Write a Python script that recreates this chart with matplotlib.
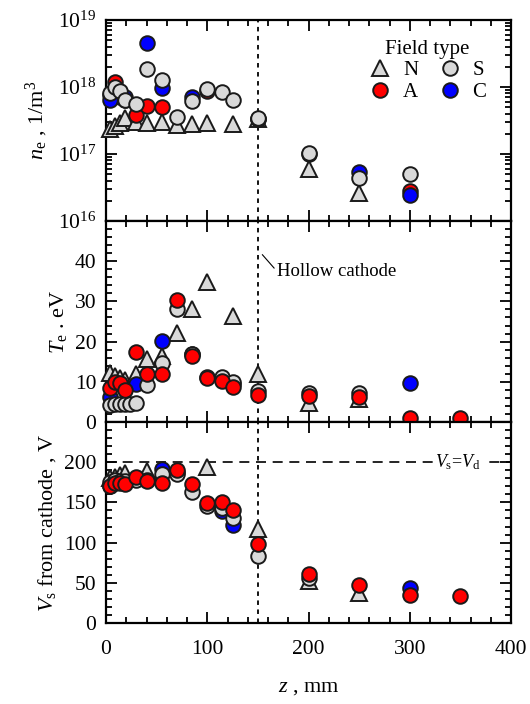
import numpy as np
import matplotlib
matplotlib.use("Agg")
import matplotlib.pyplot as plt
from matplotlib.ticker import MultipleLocator, LogLocator, LogFormatterMathtext, NullFormatter
from matplotlib.lines import Line2D

plt.rcParams['font.family'] = ['Liberation Serif', 'DejaVu Serif']
plt.rcParams['mathtext.fontset'] = 'custom'
plt.rcParams['mathtext.rm'] = 'Liberation Serif'
plt.rcParams['mathtext.it'] = 'Liberation Serif:italic'
plt.rcParams['mathtext.bf'] = 'Liberation Serif:bold'

# ---------------- data ----------------
# electron density n_e (1/m^3)
ne_N_z = [4, 9, 14, 19, 30, 40, 55, 70, 85, 100, 125, 150, 200, 250]
ne_N = [2.4e17, 2.6e17, 2.9e17, 3.5e17, 3.0e17, 2.9e17, 3.0e17, 2.7e17, 2.8e17, 2.9e17, 2.8e17, 3.3e17, 6.0e16, 2.6e16]
ne_S_z = [4, 9, 14, 19, 30, 40, 55, 70, 85, 100, 115, 125, 150, 200, 250, 300]
ne_S = [8.0e17, 9.9e17, 8.6e17, 6.5e17, 5.5e17, 1.84e18, 1.26e18, 3.6e17, 6.1e17, 9.2e17, 8.3e17, 6.3e17, 3.4e17, 1.04e17, 4.4e16, 5.1e16]
ne_A_z = [4, 9, 14, 19, 30, 40, 55, 100, 150, 200, 300]
ne_A = [7.5e17, 1.17e18, 7.0e17, 6.5e17, 3.8e17, 5.2e17, 5.0e17, 8.8e17, 3.3e17, 1.0e17, 2.8e16]
ne_C_z = [4, 19, 40, 55, 85, 150, 250, 300]
ne_C = [6.5e17, 7.0e17, 4.5e18, 9.5e17, 7.2e17, 3.3e17, 5.4e16, 2.45e16]

# electron temperature T_e (eV)
te_N_z = [4, 9, 14, 19, 30, 40, 55, 70, 85, 100, 125, 150, 200, 250]
te_N = [12.2, 11.5, 11.0, 10.5, 11.9, 15.7, 16.3, 22.2, 28.0, 34.9, 26.3, 11.9, 4.8, 5.8]
te_S_z = [4, 9, 14, 19, 24, 30, 40, 55, 70, 85, 100, 115, 125, 150, 200, 250]
te_S = [4.3, 4.5, 4.6, 4.5, 4.6, 4.7, 9.3, 14.8, 28.0, 16.8, 11.3, 11.3, 10.0, 7.8, 7.2, 7.2]
te_A_z = [4, 9, 14, 19, 30, 40, 55, 70, 85, 100, 115, 125, 150, 200, 250, 300, 350]
te_A = [8.4, 10.0, 9.8, 8.0, 17.4, 12.0, 12.0, 30.3, 16.3, 10.9, 10.3, 8.8, 6.75, 6.5, 6.2, 0.9, 0.9]
te_C_z = [4, 30, 55, 85, 125, 300]
te_C = [6.3, 9.5, 20.2, 16.8, 9.5, 9.7]

# plasma potential V_s from cathode (V)
vs_N_z = [4, 9, 14, 19, 40, 100, 150, 200, 250]
vs_N = [180, 182, 184, 186, 189, 194.6, 117.5, 52, 37]
vs_S_z = [4, 9, 14, 19, 30, 40, 55, 70, 85, 100, 115, 125, 150, 200]
vs_S = [175, 178, 177, 176, 178, 178, 185, 185, 163, 146, 143, 131, 83, 56]
vs_A_z = [4, 9, 14, 19, 30, 40, 55, 70, 85, 100, 115, 125, 150, 200, 250, 300, 350]
vs_A = [171, 174, 174, 173, 181, 176, 174, 190, 173, 148.7, 151, 140, 98.75, 60.8, 46.7, 35, 33]
vs_C_z = [4, 55, 70, 115, 125, 300]
vs_C = [170, 191, 188, 139, 122.5, 43]

V_d = 200
z_hollow = 150

# ---------------- styles ----------------
gray = '#d9d9d9'
sty = {
    'N': dict(marker='^', mfc=gray),
    'S': dict(marker='o', mfc=gray),
    'A': dict(marker='o', mfc='#ff0000'),
    'C': dict(marker='o', mfc='#0000ff'),
}
ms = {'^': 11, 'o': 10.5}

def plot_series(ax, z, y, key, zo):
    s = sty[key]
    ax.plot(z, y, linestyle='none', marker=s['marker'], ms=ms[s['marker']],
            mfc=s['mfc'], mec='#1a1a1a', mew=1.4, zorder=zo, clip_on=False)

fig = plt.figure(figsize=(5.30, 7.04), dpi=100)
L, R = 106/530, 511/530
top, bot = 1 - 20/704, 1 - 623/704
h = (top - bot) / 3
ax1 = fig.add_axes([L, bot + 2*h, R - L, h])
ax2 = fig.add_axes([L, bot + h, R - L, h], sharex=ax1)
ax3 = fig.add_axes([L, bot, R - L, h], sharex=ax1)

fs = 15.5
lfs = 16

# top
plot_series(ax1, ne_N_z, ne_N, 'N', 3)
plot_series(ax1, ne_A_z, ne_A, 'A', 4)
plot_series(ax1, ne_C_z, ne_C, 'C', 5)
plot_series(ax1, ne_S_z, ne_S, 'S', 6)
ax1.set_yscale('log')
ax1.set_ylim(1e16, 1e19)
ax1.yaxis.set_major_locator(LogLocator(base=10, numticks=10))
ax1.yaxis.set_major_formatter(LogFormatterMathtext())
ax1.yaxis.set_minor_locator(LogLocator(base=10, subs=np.arange(2, 10), numticks=20))
ax1.yaxis.set_minor_formatter(NullFormatter())
ax1.set_ylabel(r'$n_{\rm e}$ , 1/m$^3$', fontsize=lfs, labelpad=6)

# middle
plot_series(ax2, te_N_z, te_N, 'N', 3)
plot_series(ax2, te_C_z, te_C, 'C', 4)
plot_series(ax2, te_S_z, te_S, 'S', 5)
plot_series(ax2, te_A_z, te_A, 'A', 6)
ax2.set_ylim(0, 50)
ax2.yaxis.set_minor_locator(MultipleLocator(2))
ax2.set_yticks([0, 10, 20, 30, 40])
ax2.set_ylabel(r'$T_{\rm e}$ . eV', fontsize=lfs)

# bottom
plot_series(ax3, vs_N_z, vs_N, 'N', 3)
plot_series(ax3, vs_C_z, vs_C, 'C', 4)
plot_series(ax3, vs_S_z, vs_S, 'S', 5)
plot_series(ax3, vs_A_z, vs_A, 'A', 6)
ax3.set_ylim(0, 250)
ax3.set_yticks([0, 50, 100, 150, 200])
ax3.yaxis.set_minor_locator(MultipleLocator(10))
ax3.set_ylabel(r'$V_{\rm s}$ from cathode , V', fontsize=lfs)
ax3.set_xlabel(r'$z$ , mm', fontsize=lfs, labelpad=14)
ax3.axhline(V_d, color='black', lw=1.2, ls=(0, (6, 4)), zorder=1)
ax3.text(348, V_d, r'$V_{\rm s}$=$V_{\rm d}$', fontsize=13, ha='center', va='center',
         bbox=dict(facecolor='white', edgecolor='none', pad=2), zorder=2)

ax1.set_xlim(0, 400)
ax1.xaxis.set_major_locator(MultipleLocator(100))
ax1.xaxis.set_minor_locator(MultipleLocator(20))

for ax in (ax1, ax2, ax3):
    ax.axvline(z_hollow, color='black', lw=1.3, ls=(0, (2.5, 2.5)), zorder=1)
    ax.tick_params(which='both', direction='in', top=True, right=True, labelsize=fs, width=1.3)
    ax.tick_params(which='major', length=8)
    ax.tick_params(which='minor', length=4)
    ax.tick_params(axis='x', pad=12)
    ax.tick_params(axis='y', pad=7)
    for sp in ax.spines.values():
        sp.set_linewidth(1.6)
for ax in (ax1, ax2):
    ax.tick_params(labelbottom=False)

fig.align_ylabels([ax1, ax2, ax3])

# hollow cathode label
ax2.plot([154.5, 166], [41.6, 38.3], color='black', lw=0.8, zorder=2)
ax2.text(168.5, 37.5, 'Hollow cathode', fontsize=13.5, va='center', ha='left')

# legend
handles = []
labels = []
for k in ['N', 'A', 'S', 'C']:
    s = sty[k]
    handles.append(Line2D([], [], linestyle='none', marker=s['marker'], ms=ms[s['marker']],
                          mfc=s['mfc'], mec='#1a1a1a', mew=1.4))
    labels.append(k)
leg = ax1.legend(handles, labels, ncol=2, title='Field type', loc='upper right',
                 bbox_to_anchor=(0.975, 0.975), frameon=False, fontsize=15, title_fontsize=15,
                 handletextpad=0.5, columnspacing=0.9, labelspacing=0.1, borderpad=0.2,
                 handlelength=1.2)

fig.savefig('out.png', dpi=100)
